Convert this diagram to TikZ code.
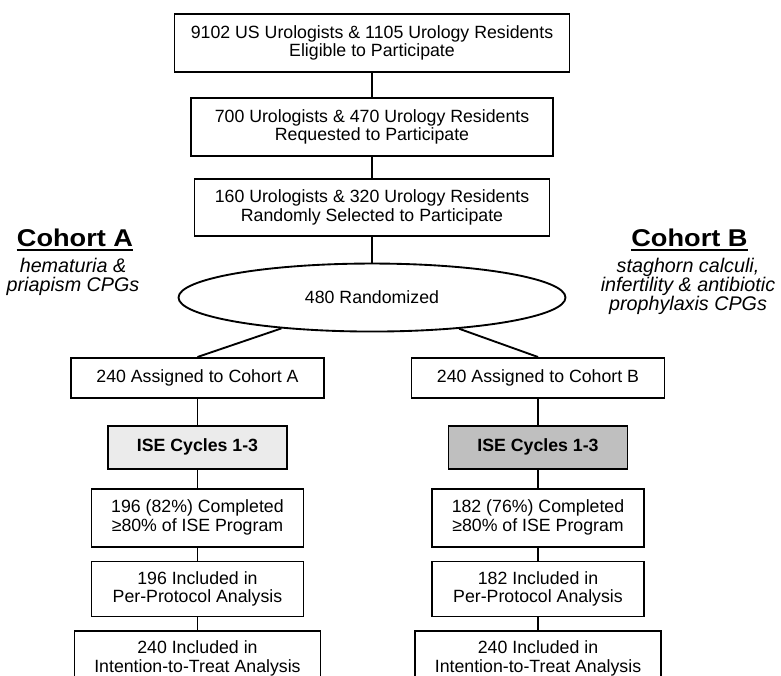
\documentclass[tikz,border=0pt]{standalone}
\usepackage{fontspec}
\setmainfont{Liberation Sans}
\newfontfamily\titlefont[FakeStretch=1.12]{Liberation Sans}
\usetikzlibrary{positioning,shapes.geometric}

\newcommand{\cohorttitle}[1]{\titlefont\fontsize{18.2}{22}\selectfont\bfseries #1}
\tikzset{
            stage/.style={draw, line width=1.4pt, align=center, inner sep=0pt,
                          font=\fontsize{13.3}{14}\selectfont},
            isebox/.style={stage, font=\fontsize{13.3}{14}\selectfont\bfseries},
            cohortnote/.style={align=center, inner sep=0pt,
                               font=\fontsize{14.8}{14.2}\selectfont\itshape}
        }

\begin{document}
\begin{tikzpicture}[
                    link/.style={line width=1.4pt},
                    twoline/.style={stage, minimum height=43.5pt}
                    ]
    \useasboundingbox (0,0) rectangle (585.75pt,-506.25pt);
    % recruitment
    \node[twoline, minimum width=296.25pt, anchor=north] (elig) at (279pt,-9.75pt)
        {9102 US Urologists \& 1105 Urology Residents\\Eligible to Participate};
    \node[twoline, minimum width=271.5pt, below=18pt of elig] (req)
        {700 Urologists \& 470 Urology Residents\\Requested to Participate};
    \node[stage, minimum width=266.25pt, minimum height=42.75pt, below=15.75pt of req] (sel)
        {160 Urologists \& 320 Urology Residents\\Randomly Selected to Participate};
    \node[stage, ellipse, minimum width=290.25pt, minimum height=51pt, below=19.5pt of sel] (rand)
        {480 Randomized};
    % cohort A
    \node[stage, minimum width=189.75pt, minimum height=30pt, anchor=north] (assA) at (148.1pt,-267.75pt)
        {240 Assigned to Cohort A};
    \node[isebox, fill=black!8, minimum width=134.25pt, minimum height=32.25pt, below=19.5pt of assA] (iseA)
        {ISE Cycles 1-3};
    \node[twoline, minimum width=159pt, below=13.5pt of iseA] (compA)
        {196 (82\%) Completed\\≥80\% of ISE Program};
    \node[stage, minimum width=159pt, minimum height=41.25pt, below=9.75pt of compA] (ppA)
        {196 Included in\\Per-Protocol Analysis};
    \node[stage, minimum width=184.5pt, minimum height=40.5pt, below=9.75pt of ppA] (ittA)
        {240 Included in\\Intention-to-Treat Analysis};
    % cohort B
    \node[stage, minimum width=189.75pt, minimum height=30pt, anchor=north] (assB) at (403.5pt,-267.75pt)
        {240 Assigned to Cohort B};
    \node[isebox, fill=black!25, minimum width=134.25pt, minimum height=32.25pt, below=19.5pt of assB] (iseB)
        {ISE Cycles 1-3};
    \node[twoline, minimum width=159pt, below=13.5pt of iseB] (compB)
        {182 (76\%) Completed\\≥80\% of ISE Program};
    \node[stage, minimum width=159pt, minimum height=41.25pt, below=9.75pt of compB] (ppB)
        {182 Included in\\Per-Protocol Analysis};
    \node[stage, minimum width=184.5pt, minimum height=40.5pt, below=9.75pt of ppB] (ittB)
        {240 Included in\\Intention-to-Treat Analysis};
    % cohort labels
    \node[anchor=base, inner sep=0pt] (titleA) at (56.25pt,-184.5pt) {\cohorttitle{Cohort A}};
    \node[cohortnote, anchor=north] (noteA) at (54.75pt,-193.5pt) {hematuria \&\\priapism CPGs};
    \node[anchor=base, inner sep=0pt] (titleB) at (517.1pt,-184.5pt) {\cohorttitle{Cohort B}};
    \node[cohortnote, anchor=north] (noteB) at (516pt,-193.5pt)
        {staghorn calculi,\\infertility \& antibiotic\\prophylaxis CPGs};
    \draw[line width=1.5pt] ([yshift=-2.8pt]titleA.base west) -- ([yshift=-2.8pt]titleA.base east);
    \draw[line width=1.5pt] ([yshift=-2.8pt]titleB.base west) -- ([yshift=-2.8pt]titleB.base east);

    \draw[link] (elig) -- (req);
    \draw[link] (req) -- (sel);
    \draw[link] (sel) -- (rand);
    \draw[link] (rand) -- (assA.north);
    \draw[link] (rand) -- (assB.north);
    \draw[link] (assA) -- (iseA);
    \draw[link] (iseA) -- (compA);
    \draw[link] (compA) -- (ppA);
    \draw[link] (ppA) -- (ittA);
    \draw[link] (assB) -- (iseB);
    \draw[link] (iseB) -- (compB);
    \draw[link] (compB) -- (ppB);
    \draw[link] (ppB) -- (ittB);
\end{tikzpicture}
\end{document}
